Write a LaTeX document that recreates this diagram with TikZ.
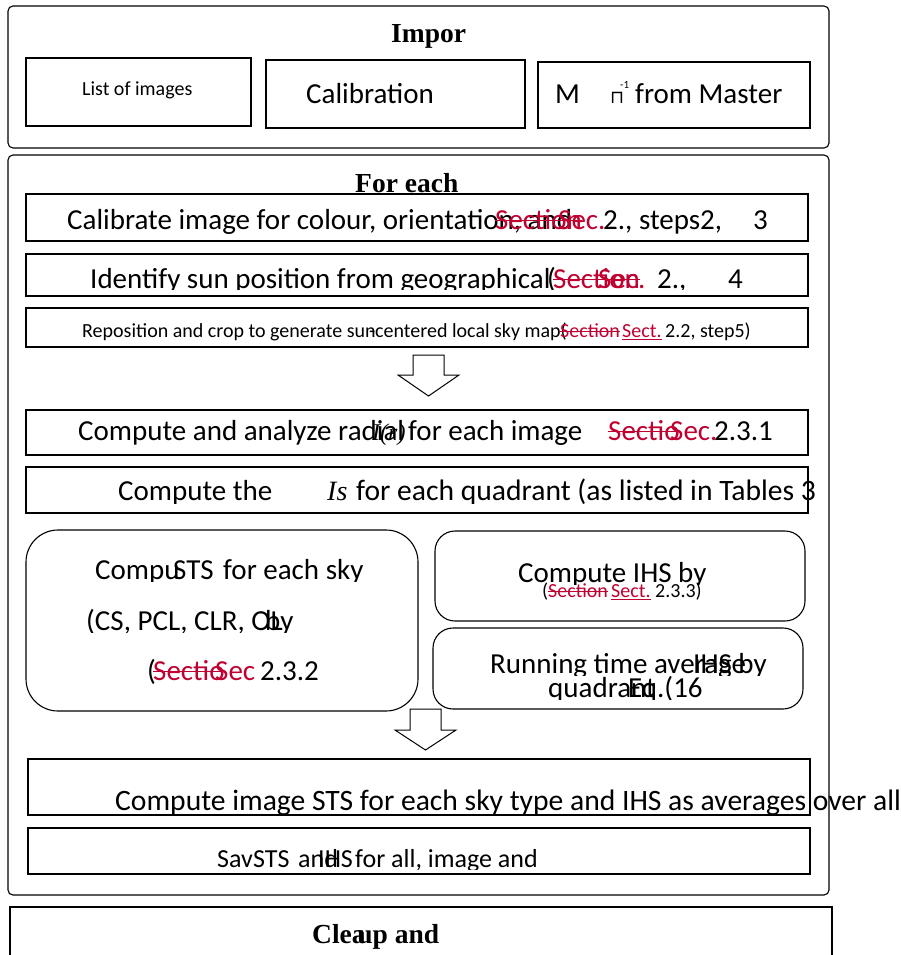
\documentclass[tikz,border=0pt]{standalone}
\usepackage{fontspec}
\setmainfont{Carlito}
\newfontfamily\tnr{Liberation Serif}
\newfontfamily\djv{DejaVu Sans}
\definecolor{secred}{RGB}{192,0,48}
\newsavebox\mybox
\newcommand{\mydel}[1]{{\color{secred}\sbox\mybox{#1}\rlap{\usebox\mybox}\rule[0.26em]{\wd\mybox}{0.045em}}}
\newcommand{\myins}[1]{{\color{secred}\sbox\mybox{#1}\rlap{\usebox\mybox}\rule[-0.13em]{\wd\mybox}{0.05em}}}
\newcommand{\myred}[1]{{\color{secred}#1}}
\begin{document}
\begin{tikzpicture}[x=1pt,y=-1pt,
  box/.style={draw, line width=1.1pt, inner sep=0},
  t/.style={inner sep=0, anchor=base west, font=\fontsize{29}{34}\selectfont},
  tl/.style={inner sep=0, anchor=base west, font=\fontsize{29.6}{34}\selectfont},
  tm/.style={inner sep=0, anchor=base west, font=\fontsize{26}{30}\selectfont},
  ts/.style={inner sep=0, anchor=base west, font=\fontsize{20}{24}\selectfont},
  hd/.style={inner sep=0, anchor=base west, font=\tnr\bfseries\fontsize{27.5}{30}\selectfont},
  blockarrow/.style={draw, line width=1pt, fill=white, line join=miter}]
\clip (0,0) rectangle (901,955);
\fill[white] (0,0) rectangle (901,955);

% ---------- Import section ----------
\node[box, rounded corners=5pt, minimum width=821pt, minimum height=142pt] (outer1) at (418.5,77) {};
\node[hd] (himp) at (391,43) {Impor};
\node[box, minimum width=225pt, minimum height=68pt] (blist) at (138.5,92) {};
\node[box, minimum width=259pt, minimum height=68pt] (bcal) at (395.5,94) {};
\node[box, minimum width=272pt, minimum height=66pt] (bmas) at (674,95) {};
\node[ts] (tlist) at (82,96) {List of images};
\node[t] (tcal) at (306,104) {Calibration};
\node[t] (tm1) at (555,103) {M};
\node[inner sep=0, anchor=base west, font=\djv\fontsize{18}{20}\selectfont] (tm2) at (610,104) {⊓};
\node[inner sep=0, anchor=base west, font=\fontsize{11}{12}\selectfont] (tm3) at (620,89) {-1};
\node[t] (tm4) at (635,103) {from Master};

% ---------- For each section ----------
\node[box, rounded corners=5pt, minimum width=821pt, minimum height=740pt] (outer2) at (418.5,525) {};
\node[hd] (hfor) at (355,192) {For each};
\node[box, minimum width=782pt, minimum height=47pt] (r1) at (417,217.5) {};
\node[box, minimum width=782pt, minimum height=42pt] (r2) at (417,275) {};
\node[box, minimum width=782pt, minimum height=39pt] (r3) at (417,327.5) {};
\node[box, minimum width=782pt, minimum height=45pt] (r4) at (417,432.5) {};
\node[box, minimum width=782pt, minimum height=46pt] (r5) at (417,490) {};
\node[box, rounded corners=32pt, minimum width=392pt, minimum height=181pt] (lbox) at (222,620.5) {};
\node[box, rounded corners=20pt, minimum width=370pt, minimum height=90pt] (rbox1) at (620,576) {};
\node[box, rounded corners=20pt, minimum width=370pt, minimum height=81pt] (rbox2) at (618,668.5) {};
\node[box, minimum width=782pt, minimum height=56pt] (r6) at (419,787) {};
\node[box, minimum width=782pt, minimum height=46pt] (r7) at (419,851) {};

% block arrows
\draw[blockarrow] (413,355) -- (444,355) -- (444,375) -- (459,375) -- (428.5,396) -- (398,375) -- (413,375) -- cycle;
\draw[blockarrow] (410,709) -- (441,709) -- (441,730) -- (456,730) -- (425.5,750) -- (395,730) -- (410,730) -- cycle;

% row 1
\begin{scope}
\clip (0,190) rectangle (901,237.5);
\node[t] (a1) at (67,229) {Calibrate image for colour, orientation, and};
\node[t] (a2) at (495,229) {\mydel{Section}};
\node[t] (a3) at (558,229) {\myred{Sec.}};
\node[t] (a4) at (603,229) {2., steps};
\node[t] (a5) at (700,229) {2,};
\node[t] (a6) at (753,229) {3};
\end{scope}
% row 2
\begin{scope}
\clip (0,250) rectangle (901,289);
\node[t] (b1) at (90,288) {Identify sun position from geographical};
\node[t] (b2) at (547,288) {(};
\node[t] (b3) at (553,288) {\mydel{Section}};
\node[t] (b4) at (598,288) {\myred{Sec.}};
\node[t] (b5) at (657,288) {2.,};
\node[t] (b6) at (728,288) {4};
\end{scope}
% row 3
\node[ts] (c1) at (82,337) {Reposition and crop to generate su\rlap{n}\kern0.2em-centered local sky map(};
\node[ts] (c2) at (560,337) {\mydel{Section}};
\node[ts] (c3) at (622,337) {\myins{Sect.}};
\node[ts] (c4) at (665,337) {2.2, step5)};
% row 4
\begin{scope}
\clip (0,405) rectangle (901,445);
\node[t] (d1) at (78,440) {Compute and analyze radial};
\node[inner sep=0, anchor=base west, font=\tnr\itshape\fontsize{24}{26}\selectfont] (d2) at (372,440) {I(r)};
\node[t] (d3) at (408,440) {for each image};
\node[t] (d4) at (608,440) {\mydel{Sectio}};
\node[t] (d5) at (670,440) {\myred{Sec.}};
\node[t] (d6) at (714,440) {2.3.1};
\end{scope}
% row 5
\begin{scope}
\clip (0,462) rectangle (901,503.5);
\node[t] (e1) at (118,500) {Compute the};
\node[inner sep=0, anchor=base west, font=\tnr\itshape\fontsize{28}{30}\selectfont] (e2) at (327,500) {Is};
\node[tl] (e3) at (356,500) {for each quadrant (as listed in Tables 3};
\end{scope}
% left rounded box
\begin{scope}
\clip (0,540) rectangle (901,581.5);
\node[t] (f1) at (95,579) {Compu};
\node[t] (f2) at (173,579) {STS};
\node[t] (f3) at (223,579) {for each sky};
\end{scope}
\begin{scope}
\clip (0,600) rectangle (420,632.5);
\node[t] (f4) at (86,630) {(CS, PCL, CLR, OL};
\node[t] (f5) at (265,630) {by};
\end{scope}
\node[t] (f6) at (147,680) {(};
\node[t] (f7) at (153,680) {\mydel{Sectio}};
\node[t] (f8) at (215,680) {\myred{Sec}};
\node[t] (f9) at (260,680) {2.3.2};
% right upper box
\begin{scope}
\clip (430,540) rectangle (901,584);
\node[t] (g1) at (518,582) {Compute IHS by};
\end{scope}
\node[ts] (g2) at (542,597) {(};
\node[ts] (g3) at (548,597) {\mydel{Section}};
\node[ts] (g4) at (611,597) {\myins{Sect.}};
\node[ts] (g5) at (655,597) {2.3.3)};
% right lower box
\begin{scope}
\clip (430,640) rectangle (901,675);
\node[t] (h1) at (490,673) {Running time average};
\node[t] (h2) at (693,673) {IHS by};
\end{scope}
\begin{scope}
\clip (430,676) rectangle (901,699);
\node[t] (h3) at (548,697) {quadrant};
\node[t] (h4) at (628,697) {Eq.(16};
\end{scope}
% row 6
\begin{scope}
\clip (0,770) rectangle (901,813);
\node[tl] (i1) at (115,810) {Compute image STS for each sky type and IHS as averages over all};
\end{scope}
% row 7
\begin{scope}
\clip (0,835) rectangle (901,869);
\node[tm] (j1) at (217,867) {Sav};
\node[tm] (j2) at (253,867) {STS};
\node[tm] (j3) at (298,867) {and};
\node[tm] (j4) at (318,867) {IHS};
\node[tm] (j5) at (355,867) {for all, image and};
\end{scope}

% ---------- Cleanup ----------
\node[box, minimum width=822pt, minimum height=100pt] (outer3) at (421,957) {};
\node[hd] (hcl) at (312,943) {Clea\kern-0.3em up and};
\end{tikzpicture}
\end{document}
